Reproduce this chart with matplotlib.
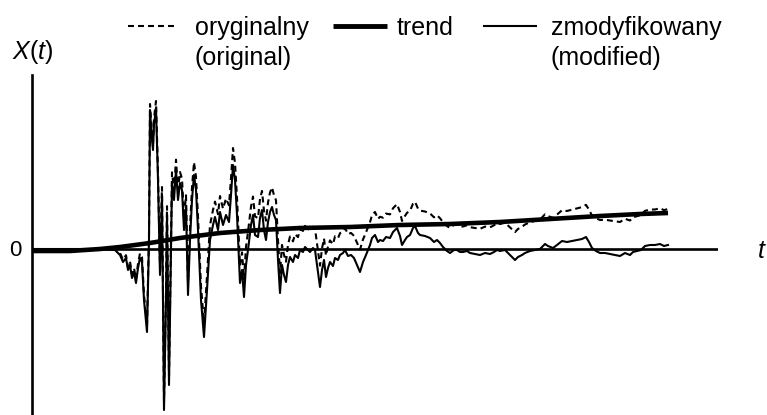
import numpy as np
import matplotlib
matplotlib.use("Agg")
import matplotlib.pyplot as plt
from matplotlib.lines import Line2D

# -----------------------------------
# Data
# -----------------------------------
t = [
    0, 2.8, 6.8, 8.3, 8.8, 9.1, 9.4, 9.6, 9.8, 10.0,
    10.2, 10.4, 10.6, 10.8, 11.0, 11.2, 11.5, 11.7, 11.8, 12.0,
    12.1, 12.2, 12.4, 12.6, 12.8, 13.0, 13.2, 13.4, 13.5, 13.7,
    13.9, 14.0, 14.2, 14.4, 14.6, 14.8, 15.0, 15.2, 15.4, 15.6,
    15.8, 16.0, 16.2, 16.4, 16.6, 16.9, 17.2, 17.5, 17.8, 18.1,
    18.3, 18.6, 18.8, 19.1, 19.4, 19.7, 19.9, 20.1, 20.3, 20.5,
    20.8, 21.0, 21.2, 21.4, 21.6, 21.9, 22.1, 22.3, 22.6, 22.8,
    23.0, 23.2, 23.4, 23.6, 23.8, 24.0, 24.2, 24.4, 24.6, 24.8,
    25.0, 25.2, 25.4, 25.6, 25.8, 26.1, 26.3, 26.6, 26.8, 27.1,
    27.3, 27.6, 27.8, 28.1, 28.3, 28.5, 28.8, 29.0, 29.2, 29.4,
    29.6, 29.8, 30.1, 30.3, 30.6, 30.8, 31.1, 31.3, 31.6, 31.9,
    32.2, 32.5, 32.8, 33.1, 33.4, 33.6, 33.8, 34.0, 34.3, 34.6,
    34.8, 35.1, 35.4, 35.8, 36.1, 36.5, 36.8, 37.0, 37.3, 37.5,
    37.8, 38.1, 38.3, 38.6, 38.8, 39.3, 39.8, 40.2, 40.5, 40.8,
    41.1, 41.5, 41.8, 42.2, 42.5, 42.8, 43.1, 43.5, 43.8, 44.3,
    44.8, 45.3, 45.8, 46.2, 46.5, 46.8, 47.3, 47.8, 48.3, 48.6,
    49.0, 49.3, 49.8, 50.3, 50.8, 51.3, 51.6, 52.1, 52.5, 53.0,
    53.5, 54.0, 54.5, 55.0, 55.4, 55.7, 56.0, 56.4, 56.8, 57.3,
    57.8, 58.3, 58.8, 59.3, 59.8, 60.1, 60.5, 60.9, 61.3, 61.8,
    62.3, 62.8, 63.2, 63.6,
]

# modified record (trend removed)
modified = [
    0, 0, 0, -0.1, -0.6, -1.3, -0.9, -2.1, -1.6, -2.9,
    -2.3, -3.4, -1.9, -0.9, -1.3, -5.1, -8.3, 0.9, 13.9, 10.9,
    9.9, 12.4, 14.1, 6.9, -2.6, 5.4, -16.1, -5.1, 3.4, -13.6,
    -0.1, 6.7, 4.9, 7.9, 4.9, 6.6, 5.9, 1.9, 4.2, -4.6,
    0.9, 4.9, 7.4, 5.9, 1.9, -5.1, -8.8, -4.1, 0.9, 2.4,
    3.2, 1.9, 3.7, 2.4, 3.4, 2.7, 5.4, 8.4, 6.9, 3.4,
    -3.4, -2.1, -4.8, -1.6, -0.1, 2.4, 3.4, 1.4, 1.2, 3.1,
    3.9, 1.9, 0.9, 2.7, 3.7, 4.2, 3.4, 2.9, -1.1, -4.4,
    -1.6, -2.6, -3.3, -1.6, -0.8, -1.3, -0.6, -0.9, -0.1, -0.3,
    0.2, -0.1, -0.3, 0.1, -0.1, -1.6, -3.8, -2.1, -1.1, -2.8,
    -1.9, -1.3, -1.7, -0.9, -1.1, -0.6, -0.4, -0.1, -0.7, -0.6,
    -0.9, -1.6, -2.3, -1.3, -0.6, -0.1, 0.4, 1.1, 1.4, 0.7,
    0.9, 0.8, 1.2, 1.1, 1.7, 2.1, 1.3, 0.4, 0.9, 1.2,
    1.4, 2.1, 2.3, 1.6, 1.4, 1.3, 1.1, 0.7, 0.9, 0.6,
    0.2, -0.2, -0.4, -0.1, -0.1, -0.3, -0.3, -0.2, -0.4, -0.5,
    -0.6, -0.4, -0.5, -0.3, -0.1, -0.2, -0.1, -0.6, -1.1, -0.8,
    -0.6, -0.4, -0.2, -0.1, 0, 0.5, 0.3, 0.1, 0.4, 0.8,
    0.7, 0.8, 0.9, 1.0, 1.2, 0.7, 0.1, -0.2, -0.4, -0.4,
    -0.5, -0.6, -0.7, -0.4, -0.6, -0.3, -0.2, -0.1, 0.3, 0.4,
    0.4, 0.5, 0.3, 0.4,
]

# trend curve
t_trend = [0, 3.8, 6.8, 8.8, 11.8, 14.8, 18.8, 22.8, 26.8, 31.8,
           36.8, 41.8, 46.8, 51.8, 56.8, 60.8, 63.6]
trend = [-0.2, -0.2, 0, 0.2, 0.6, 1.1, 1.6, 1.9, 2.1, 2.2,
         2.4, 2.5, 2.7, 3.0, 3.3, 3.5, 3.6]

T_MAX = 68.6
Y_MIN, Y_MAX = -16.6, 17.4

# original record = modified + trend
original = np.array(modified) + np.interp(t, t_trend, trend)

# -----------------------------------
# Plot
# -----------------------------------
plt.rcParams["font.family"] = ["Liberation Sans", "DejaVu Sans"]
plt.rcParams["mathtext.fontset"] = "custom"
plt.rcParams["mathtext.it"] = "Liberation Sans:italic"
plt.rcParams["mathtext.rm"] = "Liberation Sans"
plt.rcParams["lines.scale_dashes"] = False

W, H = 767, 415
fig = plt.figure(figsize=(W / 100, H / 100), dpi=100)
ax = fig.add_axes([32 / W, 0, 686 / W, 340 / H])

ax.axhline(0, color="black", lw=1.9, zorder=1)
ax.plot(t, original, color="black", lw=1.5, ls=(0, (4.3, 2.9)), zorder=2)
ax.plot(t, modified, color="black", lw=1.5, zorder=3)
ax.plot(t_trend, trend, color="black", lw=3.3, solid_capstyle="butt", zorder=4)

ax.set_xlim(0, T_MAX)
ax.set_ylim(Y_MIN, Y_MAX)
for side in ["top", "right", "bottom"]:
    ax.spines[side].set_visible(False)
ax.spines["left"].set_linewidth(1.9)
ax.set_xticks([])
ax.set_yticks([])

# axis labels
fig.text(12 / W, 1 - 59 / H, "$X$($t$)", fontsize=18, va="baseline")
fig.text(9 / W, 1 - 256 / H, "0", fontsize=16, va="baseline")
fig.text(757 / W, 1 - 258 / H, "$t$", fontsize=18, va="baseline")

# legend drawn by hand
legend_y = 1 - 26 / H
fig.add_artist(Line2D([128 / W, 175 / W], [legend_y, legend_y], color="black",
                      lw=1.5, ls=(0, (4.3, 2.9))))
fig.add_artist(Line2D([333 / W, 387 / W], [legend_y, legend_y], color="black",
                      lw=3.5, solid_capstyle="butt"))
fig.add_artist(Line2D([484 / W, 536 / W], [legend_y, legend_y], color="black",
                      lw=1.5))

fig.text(195 / W, 1 - 35 / H, "oryginalny", fontsize=18, va="baseline")
fig.text(195 / W, 1 - 65 / H, "(original)", fontsize=18, va="baseline")
fig.text(397 / W, 1 - 35 / H, "trend", fontsize=18, va="baseline")
fig.text(551 / W, 1 - 35 / H, "zmodyfikowany", fontsize=18, va="baseline")
fig.text(551 / W, 1 - 65 / H, "(modified)", fontsize=18, va="baseline")

fig.savefig("out.png", dpi=100)
